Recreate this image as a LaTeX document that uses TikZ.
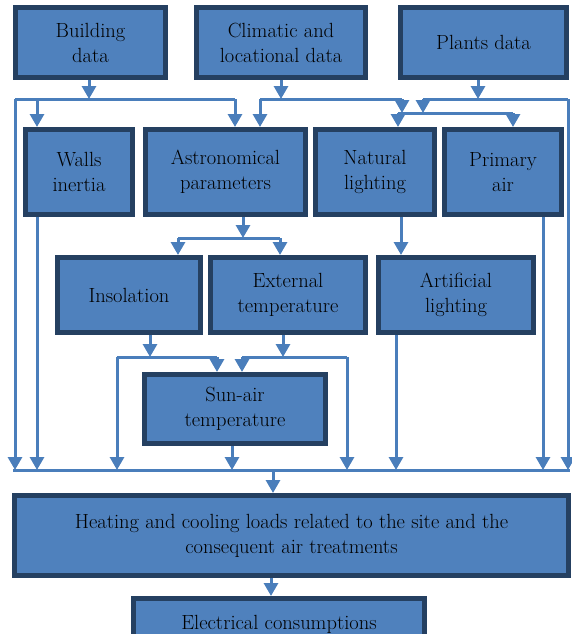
\documentclass[tikz,border=0pt]{standalone}
\usetikzlibrary{arrows.meta}
\definecolor{boxblue}{RGB}{79,129,189}
\definecolor{boxline}{RGB}{37,64,97}
\definecolor{linkblue}{RGB}{74,126,187}
\begin{document}
\begin{tikzpicture}[x=1pt,y=-1pt,box/.style={draw=boxline,line width=5pt,fill=boxblue,align=center,inner sep=0pt,text=black,font=\fontsize{20.5}{25}\selectfont},lnk/.style={draw=linkblue,line width=3pt},arr/.style={lnk,-{Triangle[width=14pt,length=13pt]}}]
\useasboundingbox (0,0) rectangle (572,634);
\clip (0,0) rectangle (572,634);

% input data
\node[box,minimum width=150pt,minimum height=70pt] (bld) at (90.5,42.5) {Building\\data};
\node[box,minimum width=169pt,minimum height=70pt] (clim) at (281,42.5) {Climatic and\\locational data};
\node[box,minimum width=166pt,minimum height=70pt] (plant) at (483.5,42.5) {Plants data};

% second row
\node[box,minimum width=107pt,minimum height=85pt] (wall) at (79,172) {Walls\\inertia};
\node[box,minimum width=160pt,minimum height=85pt] (astro) at (225.5,172) {Astronomical\\parameters};
\node[box,minimum width=119pt,minimum height=85pt] (natl) at (375,172) {Natural\\lighting};
\node[box,minimum width=117pt,minimum height=85pt] (prim) at (503,172) {Primary\\air};

% third row
\node[box,minimum width=143pt,minimum height=75pt] (insol) at (129,295) {Insolation};
\node[box,minimum width=155pt,minimum height=75pt] (extt) at (288,295) {External\\temperature};
\node[box,minimum width=155pt,minimum height=75pt] (artl) at (456,295) {Artificial\\lighting};
\node[box,minimum width=181pt,minimum height=69pt] (sunair) at (235,409) {Sun-air\\temperature};

% results
\node[box,minimum width=554pt,minimum height=80pt] (loads) at (291.5,535.5) {Heating and cooling loads related to the site and the\\consequent air treatments};
\node[box,minimum width=291pt,minimum height=51pt] (elec) at (279,624) {Electrical consumptions};

% junction points
\coordinate (bj) at (89,99);
\coordinate (b1) at (15,99);
\coordinate (b2) at (37,99);
\coordinate (b3) at (235,99);
\coordinate (cj) at (281,99);
\coordinate (c1) at (260,99);
\coordinate (c2) at (402,99);
\coordinate (pj) at (478,99);
\coordinate (p1) at (423,99);
\coordinate (p2) at (568,99);
\coordinate (n1) at (398,113);
\coordinate (n2) at (513,113);
\coordinate (nj) at (401,255);
\coordinate (aj) at (243,238);
\coordinate (a1) at (178,238);
\coordinate (a2) at (280,238);
\coordinate (ij) at (150,357);
\coordinate (i1) at (117,357);
\coordinate (i2) at (217,357);
\coordinate (ej) at (283,357);
\coordinate (e1) at (242,357);
\coordinate (e2) at (347,357);
\coordinate (k1) at (13,470);
\coordinate (k2) at (570,470);
\coordinate (so) at (232,470);
\coordinate (lo) at (396,470);
\coordinate (qo) at (543,470);
\coordinate (hj) at (273,470);
\coordinate (lj) at (271,590);

% building data
\draw[arr] (bld.south -| bj) -- (bj);
\draw[lnk] (b3) -- (b1);
\draw[arr] (b1) -- (b1 |- k1);
\draw[arr] (b2) -- (b2 |- wall.north);
\draw[arr] (b3) -- (b3 |- astro.north);

% climatic data
\draw[arr] (clim.south -| cj) -- (cj);
\draw[lnk] (c1) -- (c2);
\draw[arr] (c1) -- (c1 |- astro.north);
\draw[arr] (c2) -- (c2 |- n1);

% plants data
\draw[arr] (plant.south -| pj) -- (pj);
\draw[lnk] (p1) -- (p2);
\draw[arr] (p1) -- (p1 |- n1);
\draw[arr] (p2) -- (p2 |- k1);
\draw[lnk] (n1) -- (n2);
\draw[arr] (n1) -- (n1 |- natl.north);
\draw[arr] (n2) -- (n2 |- prim.north);

% second row outputs
\draw[arr] (wall.south -| b2) -- (b2 |- k1);
\draw[arr] (astro.south -| aj) -- (aj);
\draw[lnk] (a1) -- (a2);
\draw[arr] (a1) -- (a1 |- insol.north);
\draw[arr] (a2) -- (a2 |- extt.north);
\draw[arr] (natl.south -| nj) -- (artl.north -| nj);
\draw[arr] (prim.south -| qo) -- (qo);

% third row outputs
\draw[arr] (insol.south -| ij) -- (ij);
\draw[lnk] (i1) -- (i2);
\draw[arr] (i1) -- (i1 |- k1);
\draw[arr] (i2) -- (i2 |- sunair.north);
\draw[arr] (extt.south -| ej) -- (ej);
\draw[lnk] (e1) -- (e2);
\draw[arr] (e1) -- (e1 |- sunair.north);
\draw[arr] (e2) -- (e2 |- k1);
\draw[arr] (artl.south -| lo) -- (lo);
\draw[arr] (sunair.south -| so) -- (so);

% collector and results
\draw[lnk] (k1) -- (k2);
\draw[arr] (hj) -- (hj |- loads.north);
\draw[arr] (loads.south -| lj) -- (elec.north -| lj);
\end{tikzpicture}
\end{document}
